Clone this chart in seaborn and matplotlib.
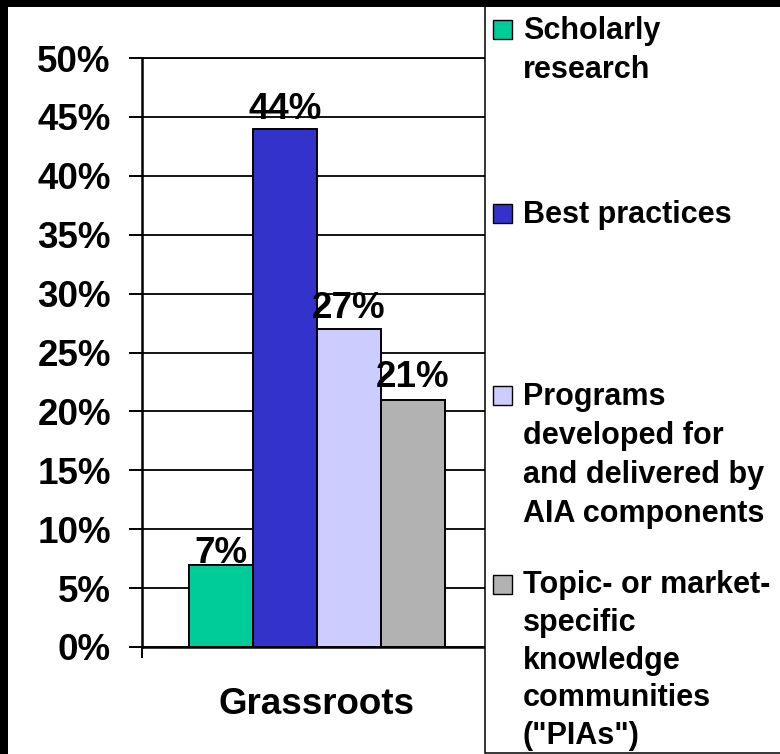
"""
Bar chart of the share of grassroots answers by type of content,
with a PowerPoint-style legend box on the right.
"""
import numpy as np
import pandas as pd
import seaborn as sns
import matplotlib.pyplot as plt
from matplotlib.patches import Rectangle
from matplotlib.ticker import PercentFormatter

# Data
GROUP = ['Grassroots']
ITEMS = ['Scholarly research',
         'Best practices',
         'Programs developed for and delivered by AIA components',
         'Topic- or market-specific knowledge communities ("PIAs")']
LEGEND_LINES = ['Scholarly\nresearch',
                'Best practices',
                'Programs\ndeveloped for\nand delivered by\nAIA components',
                'Topic- or market-\nspecific\nknowledge\ncommunities\n("PIAs")']
VALUES = [7, 44, 27, 21]
COLORS = ['#00CC99', '#3333CC', '#CCCCFF', '#B2B2B2']

W, H = 780, 754


def fx(px):
    return px / W


def fy(py):
    # pixel row from the top -> figure fraction from the bottom
    return 1 - py / H


def plot_bar():
    sns.set_style('white')
    plt.rcParams['font.family'] = ['Liberation Sans', 'DejaVu Sans']
    plt.rcParams['font.weight'] = 'bold'
    for key in ['text.color', 'xtick.color', 'ytick.color', 'axes.labelcolor']:
        plt.rcParams[key] = 'black'

    df = pd.DataFrame({'group': GROUP * len(ITEMS),
                       'item': ITEMS,
                       'value': VALUES})

    fig = plt.figure(figsize=(W / 100, H / 100), dpi=100, facecolor='white')
    ax = fig.add_axes([fx(142), fy(647), fx(492) - fx(142), fy(58) - fy(647)])

    sns.barplot(data=df, x='group', y='value', hue='item', hue_order=ITEMS,
                palette=COLORS, saturation=1, width=0.73, gap=0,
                edgecolor='black', linewidth=1.4, legend=False, ax=ax)

    ax.set_ylim(0, 50)
    ax.set_xlim(-0.5, 0.5)
    ax.set_yticks(np.arange(0, 51, 5))
    ax.yaxis.set_major_formatter(PercentFormatter(decimals=0))
    ax.set_xlabel('')
    ax.set_ylabel('')

    # gridlines behind the bars
    ax.set_axisbelow(True)
    ax.yaxis.grid(True, color='black', linewidth=1.3)
    ax.xaxis.grid(False)

    for side in ['left', 'bottom', 'top']:
        ax.spines[side].set_visible(True)
        ax.spines[side].set_color('black')
    ax.spines['left'].set_linewidth(1.8)
    ax.spines['bottom'].set_linewidth(1.8)
    ax.spines['top'].set_linewidth(1.3)
    ax.spines['right'].set_visible(False)

    ax.tick_params(axis='y', which='major', direction='out', length=9.4,
                   width=1.4, color='black', pad=13, labelsize=26.5,
                   left=True)
    ax.tick_params(axis='x', which='major', length=0, pad=29, labelsize=26.5)
    ax.set_xticks([-0.5, 0.5], minor=True)
    ax.tick_params(axis='x', which='minor', direction='out', length=8,
                   width=1.4, color='black', bottom=True)
    for lab in ax.get_yticklabels() + ax.get_xticklabels():
        lab.set_fontweight('bold')

    # value labels, PowerPoint puts them at slightly uneven offsets
    pads = [-4.5, 1.5, 2.3, 3.0]
    for cont, pad in zip(ax.containers, pads):
        ax.bar_label(cont, fmt='%d%%', padding=pad, fontsize=26.5,
                     fontweight='bold')

    # legend box
    fig.patches.append(Rectangle((fx(485), fy(753)), 1, 1,
                                 transform=fig.transFigure, facecolor='white',
                                 edgecolor='black', linewidth=1.1, zorder=2))
    baselines = [39, 223, 405, 594]
    steps = [39, 39, 39, 37.5]  # pixels between text baselines
    for text, color, base, step in zip(LEGEND_LINES, COLORS, baselines, steps):
        fig.patches.append(Rectangle((fx(493), fy(base)), fx(512) - fx(493),
                                     fy(base - 19) - fy(base),
                                     transform=fig.transFigure,
                                     facecolor=color, edgecolor='black',
                                     linewidth=1.0, zorder=3))
        # multi-line text is anchored on the baseline of its last line
        last = base + step * text.count('\n')
        fig.text(fx(523), fy(last), text, ha='left', va='baseline',
                 fontsize=22, fontweight='bold',
                 linespacing=1.39 * step / 39, zorder=3)

    # black slide frame on top and left
    fig.patches.append(Rectangle((0, fy(7)), 1, 1, transform=fig.transFigure,
                                 facecolor='black', edgecolor='none', zorder=5))
    fig.patches.append(Rectangle((0, 0), fx(8), 1, transform=fig.transFigure,
                                 facecolor='black', edgecolor='none', zorder=5))

    plt.savefig('out.png', dpi=100, facecolor='white')


if __name__ == '__main__':
    plot_bar()
